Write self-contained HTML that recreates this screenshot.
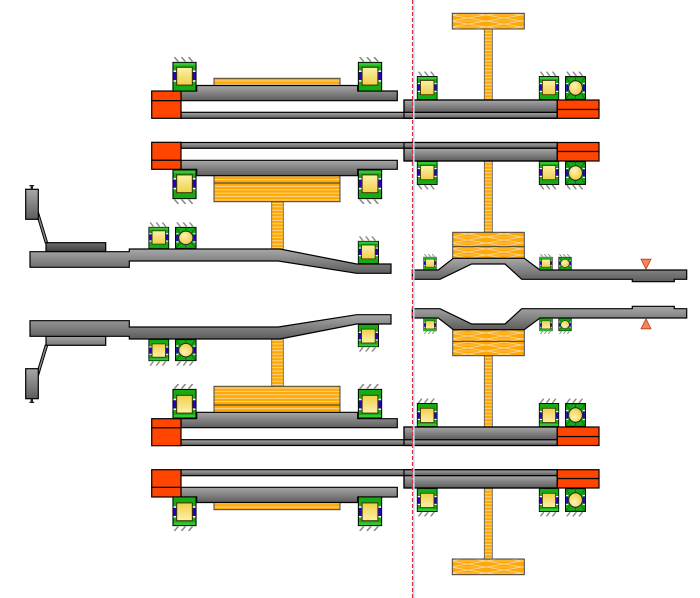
<!DOCTYPE html>
<html><head><meta charset="utf-8">
<style>
html,body{margin:0;padding:0;background:#fff}
svg{display:block}
</style></head>
<body>
<svg width="700" height="598" viewBox="0 0 700 598" xmlns="http://www.w3.org/2000/svg">
<defs>
  <linearGradient id="sh" x1="0" y1="0" x2="0" y2="1"><stop offset="0" stop-color="#a8a8a8"/><stop offset="1" stop-color="#5c5c5c"/></linearGradient>
  <linearGradient id="shF" x1="0" y1="0" x2="0" y2="1"><stop offset="0" stop-color="#5c5c5c"/><stop offset="1" stop-color="#a8a8a8"/></linearGradient>
  <linearGradient id="sd" x1="0" y1="0" x2="0" y2="1"><stop offset="0" stop-color="#6e6e6e"/><stop offset="1" stop-color="#3e3e3e"/></linearGradient>
  <linearGradient id="sdF" x1="0" y1="0" x2="0" y2="1"><stop offset="0" stop-color="#7a7a7a"/><stop offset="1" stop-color="#a4a4a4"/></linearGradient>
  <linearGradient id="yl" x1="0" y1="0" x2="0" y2="1"><stop offset="0" stop-color="#fbf1a8"/><stop offset="1" stop-color="#f0cf4a"/></linearGradient>
  <radialGradient id="yb" cx="0.4" cy="0.35" r="0.7"><stop offset="0" stop-color="#fdf4b4"/><stop offset="1" stop-color="#f0c840"/></radialGradient>
  <pattern id="hs" patternUnits="userSpaceOnUse" width="6" height="3.4"><rect width="6" height="3.4" fill="#ffa800"/><rect y="2.3" width="6" height="0.9" fill="#f7dcae"/></pattern>
  <pattern id="cr" patternUnits="userSpaceOnUse" width="36" height="6"><rect width="36" height="6" fill="#ffa800"/><path d="M0 0 L36 6 M0 6 L36 0" stroke="#f7d8a8" stroke-width="0.8"/><path d="M0 3 H36" stroke="#f7d8a8" stroke-width="0.5"/></pattern>
  <symbol id="rb" viewBox="0 0 24 30" preserveAspectRatio="none">
    <rect x="0.6" y="0.6" width="22.8" height="28.8" fill="#14ab14" stroke="#000" stroke-width="1.1"/>
    <rect x="1.2" y="1.2" width="21.6" height="2.6" fill="#33c833"/>
    <rect x="1.2" y="8.8" width="2.8" height="1.5" fill="#fff"/>
    <rect x="1.2" y="10.3" width="2.8" height="8.2" fill="#2a00c0"/>
    <rect x="1.2" y="18.5" width="2.8" height="1.5" fill="#fff"/>
    <rect x="20" y="8.8" width="2.8" height="1.5" fill="#fff"/>
    <rect x="20" y="10.3" width="2.8" height="8.2" fill="#2a00c0"/>
    <rect x="20" y="18.5" width="2.8" height="1.5" fill="#fff"/>
    <rect x="4.3" y="5.6" width="15.4" height="17.8" fill="url(#yl)" stroke="#3a3000" stroke-width="1"/>
  </symbol>
  <symbol id="bb" viewBox="0 0 22 24" preserveAspectRatio="none">
    <rect x="0.6" y="0.6" width="20.8" height="22.8" fill="#14ab14" stroke="#000" stroke-width="1.1"/>
    <rect x="1.2" y="7" width="2.2" height="1.3" fill="#fff"/>
    <rect x="1.2" y="8.3" width="2.2" height="7.4" fill="#2a00c0"/>
    <rect x="1.2" y="15.7" width="2.2" height="1.3" fill="#fff"/>
    <rect x="18.6" y="7" width="2.2" height="1.3" fill="#fff"/>
    <rect x="18.6" y="8.3" width="2.2" height="7.4" fill="#2a00c0"/>
    <rect x="18.6" y="15.7" width="2.2" height="1.3" fill="#fff"/>
    <path d="M11 0.6 V5 M11 19 V23.4 M1 1 L5 6.5 M21 1 L17 6.5 M1 23 L5 17.5 M21 23 L17 17.5" stroke="#0a6a0a" stroke-width="0.9" fill="none"/>
    <circle cx="11" cy="12" r="7.2" fill="url(#yb)" stroke="#222" stroke-width="1"/>
  </symbol>
  <symbol id="ht" viewBox="0 0 24 5" preserveAspectRatio="none">
    <path d="M2 0 L6 5 M9 0 L13 5 M16 0 L20 5" stroke="#8a8a8a" stroke-width="1.6" fill="none"/>
  </symbol>

  <!-- static parts (no gradient direction dependency) -->
  <g id="static1">
    <rect x="484.3" y="29" width="8" height="71" fill="url(#hs)" stroke="#555" stroke-width="0.8"/>
    <rect x="484.3" y="161" width="8" height="71.3" fill="url(#hs)" stroke="#555" stroke-width="0.8"/>
    <rect x="271.7" y="201.7" width="11.6" height="47.5" fill="url(#hs)" stroke="#555" stroke-width="0.8"/>
    <rect x="452.3" y="13.3" width="72" height="15.7" fill="url(#cr)" stroke="#444" stroke-width="1"/>
    <rect x="214" y="78.3" width="126" height="7.7" fill="url(#hs)" stroke="#444" stroke-width="1"/>
    <rect x="214" y="175.3" width="126" height="26.4" fill="url(#hs)" stroke="#444" stroke-width="1"/>
    <path d="M214 183 H340" stroke="#333" stroke-width="0.9"/>
    <rect x="452.7" y="232.3" width="71.6" height="26" fill="url(#cr)" stroke="#444" stroke-width="1"/>
    <path d="M452.7 246.7 H524.3" stroke="#333" stroke-width="0.9"/>
  </g>
  <g id="static2">
    <rect x="151.7" y="91" width="29.3" height="9.7" fill="#ff4500" stroke="#000" stroke-width="1.2"/>
    <rect x="151.7" y="100.7" width="29.3" height="17.6" fill="#ff4500" stroke="#000" stroke-width="1.2"/>
    <rect x="151.7" y="142.3" width="29.3" height="18" fill="#ff4500" stroke="#000" stroke-width="1.2"/>
    <rect x="151.7" y="160.3" width="29.3" height="9" fill="#ff4500" stroke="#000" stroke-width="1.2"/>
    <rect x="557.3" y="100" width="41.7" height="9.5" fill="#ff4500" stroke="#000" stroke-width="1.2"/>
    <rect x="557.3" y="109.5" width="41.7" height="8.8" fill="#ff4500" stroke="#000" stroke-width="1.2"/>
    <rect x="557.3" y="142.5" width="41.7" height="9" fill="#ff4500" stroke="#000" stroke-width="1.2"/>
    <rect x="557.3" y="151.5" width="41.7" height="9.5" fill="#ff4500" stroke="#000" stroke-width="1.2"/>
    <polygon points="641,259.2 651,259.2 646,269.2" fill="#f7845c" stroke="#b04020" stroke-width="0.8"/>

    <use href="#rb" x="172.3" y="61.7" width="24.4" height="30"/>
    <use href="#ht" x="172.3" y="57" width="24.4" height="4.7"/>
    <use href="#rb" x="357.7" y="61.7" width="24.6" height="30"/>
    <use href="#ht" x="357.7" y="57" width="24.6" height="4.7"/>

    <use href="#rb" x="416.7" y="76" width="21" height="24"/>
    <use href="#ht" x="416.7" y="71.5" width="21" height="4.5"/>
    <use href="#rb" x="538.7" y="76" width="20.6" height="24"/>
    <use href="#ht" x="538.7" y="71.5" width="20.6" height="4.5"/>
    <use href="#bb" x="565" y="76" width="21" height="24"/>
    <use href="#ht" x="565" y="71.5" width="21" height="4.5"/>

    <use href="#rb" x="172.3" y="169.3" width="24.4" height="30"/>
    <use href="#ht" x="172.3" y="199.3" width="24.4" height="4.7"/>
    <use href="#rb" x="357.7" y="169.3" width="24.6" height="30"/>
    <use href="#ht" x="357.7" y="199.3" width="24.6" height="4.7"/>

    <use href="#rb" x="416.7" y="161" width="21" height="24"/>
    <use href="#ht" x="416.7" y="185" width="21" height="4.5"/>
    <use href="#rb" x="538.7" y="161" width="20.6" height="24"/>
    <use href="#ht" x="538.7" y="185" width="20.6" height="4.5"/>
    <use href="#bb" x="565" y="161" width="21" height="24"/>
    <use href="#ht" x="565" y="185" width="21" height="4.5"/>

    <use href="#rb" x="148.3" y="226.7" width="21" height="22.3"/>
    <use href="#ht" x="148.3" y="222.3" width="21" height="4.4"/>
    <use href="#bb" x="175" y="226.7" width="21.7" height="22.3"/>
    <use href="#ht" x="175" y="222.3" width="21.7" height="4.4"/>
    <use href="#rb" x="357.7" y="240.7" width="21.3" height="23.3"/>
    <use href="#ht" x="357.7" y="236.3" width="21.3" height="4.4"/>

    <use href="#rb" x="423.3" y="256.7" width="13.4" height="13.3"/>
    <use href="#ht" x="423.3" y="254" width="13.4" height="2.7"/>
    <use href="#rb" x="539.3" y="256.7" width="13.4" height="13.3"/>
    <use href="#ht" x="539.3" y="254" width="13.4" height="2.7"/>
    <use href="#bb" x="558.3" y="256.7" width="13.4" height="13.3"/>
    <use href="#ht" x="558.3" y="254" width="13.4" height="2.7"/>
  </g>

  <!-- shafts, top version -->
  <g id="shA">
    <rect x="181" y="112.3" width="376.3" height="6" fill="url(#sh)" stroke="#000" stroke-width="1.2"/>
    <polygon points="181,91 196.7,91 196.7,85.5 357.7,85.5 357.7,91 397.3,91 397.3,100.7 181,100.7" fill="url(#sh)" stroke="#000" stroke-width="1.2"/>
    <rect x="404" y="100" width="153.3" height="12.3" fill="url(#sh)" stroke="#000" stroke-width="1.2"/>
    <rect x="404" y="100" width="153.3" height="18.3" fill="none" stroke="#000" stroke-width="1.2"/>
    <rect x="181" y="142.5" width="376.3" height="5.8" fill="url(#sh)" stroke="#000" stroke-width="1.2"/>
    <polygon points="181,160.3 397.3,160.3 397.3,169.3 357.7,169.3 357.7,175.7 196.7,175.7 196.7,169.3 181,169.3" fill="url(#sh)" stroke="#000" stroke-width="1.2"/>
    <rect x="404" y="148.3" width="153.3" height="12.7" fill="url(#sh)" stroke="#000" stroke-width="1.2"/>
    <rect x="404" y="142.5" width="153.3" height="18.5" fill="none" stroke="#000" stroke-width="1.2"/>
    <path d="M37.3 212.5 L46.5 243" stroke="#000" stroke-width="3.4"/>
    <path d="M37.3 212.5 L46.5 243" stroke="#8c8c8c" stroke-width="1.4"/>
    <rect x="25.7" y="189.3" width="12.6" height="30" fill="url(#sh)" stroke="#000" stroke-width="1.2"/>
    <rect x="30.6" y="185.2" width="2.4" height="4" fill="#222"/>
    <rect x="29.4" y="185" width="4.8" height="1.2" fill="#222"/>
    <rect x="46" y="242.7" width="59.7" height="9" fill="url(#sd)" stroke="#000" stroke-width="1.2"/>
    <polygon points="30,251.7 129.3,251.7 129.3,249 280,249 356.7,264 391,264 391,273.3 356.7,273.3 278.3,261 129.3,261 129.3,267.3 30,267.3" fill="url(#sh)" stroke="#000" stroke-width="1.2"/>
    <polygon points="412.3,270 438.3,270 453.3,258.3 524.3,258.3 540,270 686.7,270 686.7,279.3 674.3,279.3 674.3,281.7 632.3,281.7 632.3,279.3 521.7,279.3 505,264 471.7,264 440,279.3 412.3,279.3" fill="url(#sh)" stroke="#000" stroke-width="1.2"/>
  </g>
  <!-- shafts, mirrored-gradient version -->
  <g id="shB">
    <rect x="181" y="112.3" width="376.3" height="6" fill="url(#shF)" stroke="#000" stroke-width="1.2"/>
    <polygon points="181,91 196.7,91 196.7,85.5 357.7,85.5 357.7,91 397.3,91 397.3,100.7 181,100.7" fill="url(#shF)" stroke="#000" stroke-width="1.2"/>
    <rect x="404" y="100" width="153.3" height="12.3" fill="url(#shF)" stroke="#000" stroke-width="1.2"/>
    <rect x="404" y="100" width="153.3" height="18.3" fill="none" stroke="#000" stroke-width="1.2"/>
    <rect x="181" y="142.5" width="376.3" height="5.8" fill="url(#shF)" stroke="#000" stroke-width="1.2"/>
    <polygon points="181,160.3 397.3,160.3 397.3,169.3 357.7,169.3 357.7,175.7 196.7,175.7 196.7,169.3 181,169.3" fill="url(#shF)" stroke="#000" stroke-width="1.2"/>
    <rect x="404" y="148.3" width="153.3" height="12.7" fill="url(#shF)" stroke="#000" stroke-width="1.2"/>
    <rect x="404" y="142.5" width="153.3" height="18.5" fill="none" stroke="#000" stroke-width="1.2"/>
    <path d="M37.3 212.5 L46.5 243" stroke="#000" stroke-width="3.4"/>
    <path d="M37.3 212.5 L46.5 243" stroke="#8c8c8c" stroke-width="1.4"/>
    <rect x="25.7" y="189.3" width="12.6" height="30" fill="url(#shF)" stroke="#000" stroke-width="1.2"/>
    <rect x="30.6" y="185.2" width="2.4" height="4" fill="#222"/>
    <rect x="29.4" y="185" width="4.8" height="1.2" fill="#222"/>
    <rect x="46" y="242.7" width="59.7" height="9" fill="url(#sdF)" stroke="#000" stroke-width="1.2"/>
    <polygon points="30,251.7 129.3,251.7 129.3,249 280,249 356.7,264 391,264 391,273.3 356.7,273.3 278.3,261 129.3,261 129.3,267.3 30,267.3" fill="url(#shF)" stroke="#000" stroke-width="1.2"/>
    <polygon points="412.3,270 438.3,270 453.3,258.3 524.3,258.3 540,270 686.7,270 686.7,279.3 674.3,279.3 674.3,281.7 632.3,281.7 632.3,279.3 521.7,279.3 505,264 471.7,264 440,279.3 412.3,279.3" fill="url(#shF)" stroke="#000" stroke-width="1.2"/>
  </g>
</defs>

<rect width="700" height="598" fill="#fff"/>
<use href="#static1"/>
<use href="#shA"/>
<use href="#static2"/>
<g transform="matrix(1 0 0 -1 0 588)">
  <use href="#static1"/>
  <use href="#shB"/>
  <use href="#static2"/>
</g>

<line x1="413.8" y1="0" x2="413.8" y2="598" stroke="#b8def6" stroke-width="1.6"/>
<line x1="412.5" y1="0" x2="412.5" y2="598" stroke="#e8283c" stroke-width="1.2" stroke-dasharray="4 2"/>
</svg>
</body></html>
